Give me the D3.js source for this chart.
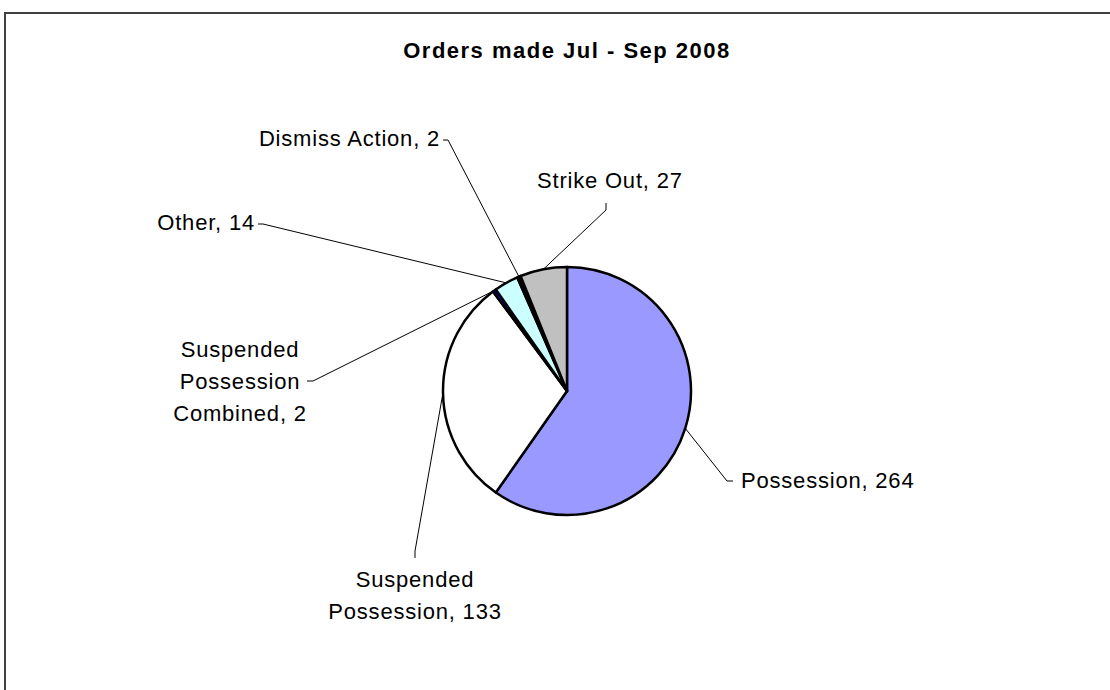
<!DOCTYPE html>
<meta charset="utf-8">
<script src="https://d3js.org/d3.v7.min.js"></script>
<style>
  body { margin: 0; background: #fff; }
  text { font-family: "Liberation Sans", Arial, sans-serif; fill: #000; }
</style>
<div id="my_dataviz"></div>
<script>

// data
var categories = ["Possession", "Suspended Possession", "Suspended Possession Combined", "Other", "Dismiss Action", "Strike Out"];
var values = [264, 133, 2, 14, 2, 27];
var colors = ["#9999FF", "#FFFFFF", "#0000DD", "#CCFFFF", "#000000", "#C0C0C0"];
var labelLines = [
  ["Possession, 264"],
  ["Suspended", "Possession, 133"],
  ["Suspended", "Possession", "Combined, 2"],
  ["Other, 14"],
  ["Dismiss Action, 2"],
  ["Strike Out, 27"]
];

// where Excel put each label (text anchor point + leader path near the label)
var labelPos = [
  {x: 741, y: 488, anchor: "start",  leader: [[727, 481], [733, 481]]},
  {x: 415, y: 587, anchor: "middle", leader: [[415, 551], [415, 558]]},
  {x: 240, y: 357, anchor: "middle", leader: [[313, 381], [307, 381]]},
  {x: 255, y: 230, anchor: "end",    leader: [[263, 224], [258, 224]]},
  {x: 440, y: 146, anchor: "end",    leader: [[448, 140], [443, 140]]},
  {x: 537, y: 188, anchor: "start",  leader: [[606, 210], [606, 203]]}
];

var width = 1110, height = 690;
var cx = 567, cy = 391, radius = 124;
var lineGap = 32;

var svg = d3.select("#my_dataviz")
  .append("svg")
    .attr("width", width)
    .attr("height", height);

// chart frame
svg.append("rect")
  .attr("x", 5).attr("y", 13)
  .attr("width", width + 20).attr("height", height + 20)
  .attr("fill", "none")
  .attr("stroke", "#404040")
  .attr("stroke-width", 2);

// title
svg.append("text")
  .attr("x", cx)
  .attr("y", 58)
  .attr("text-anchor", "middle")
  .style("font-size", "22px")
  .style("font-weight", "bold")
  .style("letter-spacing", "1.5px")
  .text("Orders made Jul - Sep 2008");

var pie = d3.pie().sort(null).value(function(d) { return d; });
var arcs = pie(values);

var arc = d3.arc().innerRadius(0).outerRadius(radius);
var edge = d3.arc().innerRadius(radius).outerRadius(radius);

var g = svg.append("g")
  .attr("transform", "translate(" + cx + "," + cy + ")");

g.selectAll("path")
  .data(arcs)
  .enter().append("path")
    .attr("d", arc)
    .attr("fill", function(d, i) { return colors[i]; })
    .attr("stroke", "#000")
    .attr("stroke-width", 2.5)
    .attr("stroke-linejoin", "round");

// leader lines
var line = d3.line();
svg.selectAll(".leader")
  .data(arcs)
  .enter().append("path")
    .attr("class", "leader")
    .attr("fill", "none")
    .attr("stroke", "#000")
    .attr("stroke-width", 1)
    .attr("d", function(d, i) {
      var c = edge.centroid(d);
      var pts = [[cx + c[0], cy + c[1]]].concat(labelPos[i].leader);
      return line(pts);
    });

// labels
svg.selectAll(".label")
  .data(arcs)
  .enter().append("text")
    .attr("class", "label")
    .attr("text-anchor", function(d, i) { return labelPos[i].anchor; })
    .style("font-size", "22px")
    .style("letter-spacing", "0.8px")
    .each(function(d, i) {
      var t = d3.select(this);
      labelLines[i].forEach(function(s, k) {
        t.append("tspan")
          .attr("x", labelPos[i].x)
          .attr("y", labelPos[i].y + k * lineGap)
          .text(s);
      });
    });

</script>
